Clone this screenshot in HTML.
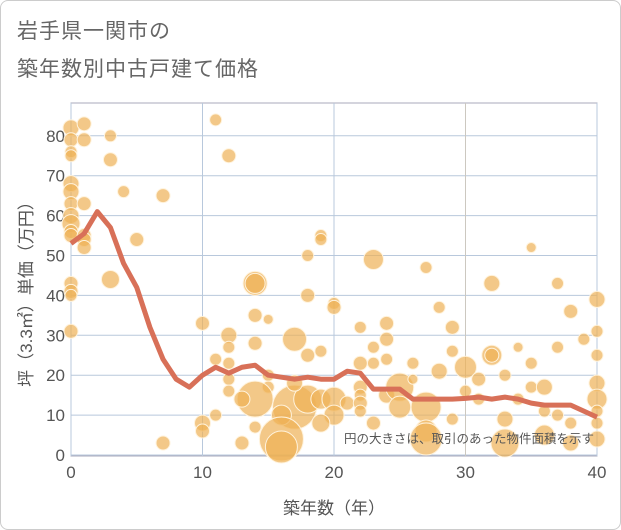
<!DOCTYPE html>
<html><head><meta charset="utf-8"><style>
body{margin:0;background:#fff;font-family:"Liberation Sans","Noto Sans CJK JP",sans-serif;}
#wrap{position:relative;width:619px;height:528px;border:1px solid #ccc;border-radius:8px;overflow:hidden;}
.t{position:absolute;left:16px;color:#666;font-size:21px;letter-spacing:1px;}
</style></head><body>
<div id="wrap">
<div class="t" style="top:14px">岩手県一関市の</div>
<div class="t" style="top:52px">築年数別中古戸建て価格</div>
<svg id="svg" width="621" height="530" style="position:absolute;left:-1px;top:-1px"></svg>
</div>
<script>
const xTicks=[0,10,20,30,40];
const yTicks=[0,10,20,30,40,50,60,70,80];
const lineYears=[0,1,2,3,4,5,6,7,8,9,10,11,12,13,14,15,16,17,18,19,20,21,22,23,24,25,26,27,28,29,30,31,32,33,34,35,36,37,38,39,40];
const lineValues=[53,55.5,61,57,48,42,32,24,19,17,20,22,20.5,22,22.5,20,19.5,19,19.5,19,19,21,20.5,16.5,16.5,16.5,14,14,14,14,14.2,14.5,14,14.5,14,13,12.5,12.5,12.5,11,9.5];
const bubbleYears=[0,0,0,0,0,0,0,0,0,0,0,0,0,0,0,1,1,1,1,1,1,3,3,3,4,5,7,7,11,12,10,10,10,12,12,12,11,14,14,14,15,14,17,18,19,18,19,19,18,20,20,12,12,11,15,15,14,13,17,16,16,18,17,19,20,20,19,13,14,21,22,22,22,22,22,22,23,23,24,24,24,24,23,23,25,25,26,26,27,27,27,27,28,28,29,29,29,30,30,31,31,32,32,32,33,33,33,34,34,35,35,35,36,36,36,37,37,37,38,38,38,39,40,40,40,40,40,40,40,40,16];
const bubbleValues=[82,79,76,75,68,66,63,60,58,56,55,43,41,40,31,83,79,63,55,54,52,80,74,44,66,54,65,3,84,75,33,8,6,30,27,23,24,43,43,35,34,28,29,25,26,50,55,54,40,38,37,19,16,10,20,17,14,14,12,10,4,14,18,14,14,10,8,3,7,13,17,15,13,11,23,32,49,27,29,33,15,24,8,23,17,12,19,23,47,12,6,4,21,37,26,32,9,22,16,19,14,25,25,43,20,9,3,14,27,52,23,17,17,11,5,10,43,27,36,8,3,29,39,31,25,18,14,11,8,4,2];
const bubbleSizes=[8,7,6,6,8,8,7,8,9,7,7,7,7,6,7,7,7,7,7,7,7,6,7,9,6,7,7,7,6,7,7,8,7,8,6,6,6,12,10,7,5,7,12,7,6,6,6,6,7,6,7,6,6,6,6,6,18,8,22,10,22,14,8,10,12,10,9,7,6,7,7,6,7,6,7,6,10,6,7,7,8,6,7,6,14,11,5,6,6,15,11,16,8,6,6,7,6,11,6,7,6,10,7,8,6,8,14,6,5,5,6,6,8,6,10,6,6,6,7,6,8,6,8,6,6,8,10,6,6,8,16];
const NS="http://www.w3.org/2000/svg";
const svg=document.getElementById('svg');
const L=71,R=597,T=103,B=456;
const xs=v=>L+v/40*(R-L);
const ys=v=>455-v*3.99;
function mk(tag,attrs){const e=document.createElementNS(NS,tag);for(const k in attrs)e.setAttribute(k,attrs[k]);svg.appendChild(e);return e;}
const frame=mk('rect',{x:L,y:T,width:R-L,height:B-T,fill:'#fff',stroke:'#aab',"stroke-width":1});


yTicks.forEach(v=>{
 const g=mk('line',{x1:L,x2:R,y1:ys(v),y2:ys(v),stroke:'#b8c8dc',"stroke-width":1});
 
 
 const t=mk('text',{x:L-6,y:ys(v)+6,"text-anchor":"end","font-size":17,fill:'#555'});
 t.textContent=v;
 
 
});
xTicks.forEach(v=>{
 const g=mk('line',{x1:xs(v),x2:xs(v),y1:T,y2:B,stroke:v===30?'#ccc8c0':'#b8c8dc',"stroke-width":1});
 
 
 const t=mk('text',{x:xs(v),y:478,"text-anchor":"middle","font-size":17,fill:'#555'});
 t.textContent=v;
 
 
});
bubbleYears.forEach((yr,i)=>{
 const c=mk('circle',{cx:xs(yr),cy:ys(bubbleValues[i]),r:bubbleSizes[i],fill:'#eeb055',"fill-opacity":0.7,stroke:'#fff3dd',"stroke-width":1});
 
 
});
const pts=lineYears.map((y,i)=>xs(y)+','+ys(lineValues[i])).join(' ');
const pl=mk('polyline',{points:pts,fill:'none',stroke:'#d87058',"stroke-width":5,"stroke-linejoin":"round"});


const n=mk('text',{x:594,y:443,"text-anchor":"end","font-size":12.5,fill:'#555'});
n.textContent='円の大きさは、取引のあった物件面積を示す';


const xt=mk('text',{x:334,y:514,"text-anchor":"middle","font-size":17,fill:'#555'});
xt.textContent='築年数（年）';


const yt=mk('text',{x:0,y:0,"text-anchor":"middle","font-size":17,fill:'#555',transform:'translate(32,290) rotate(-90)'});
yt.textContent='坪（3.3㎡）単価（万円）';


</script>
</body></html>
